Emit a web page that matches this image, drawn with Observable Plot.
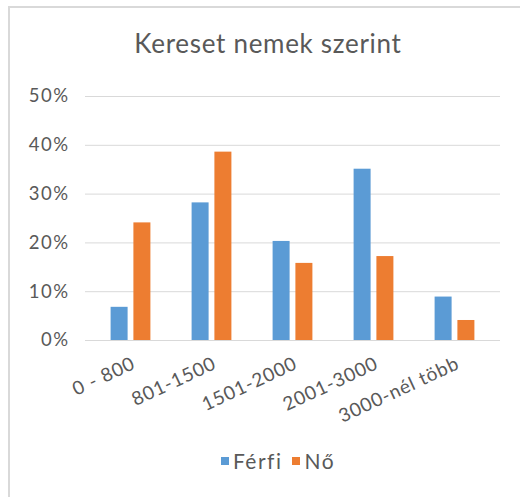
<!DOCTYPE html>
<html>
<head>
<meta charset="utf-8">
<script src="https://cdn.jsdelivr.net/npm/d3@7"></script>
<script src="https://cdn.jsdelivr.net/npm/@observablehq/plot@0.6"></script>
<style>
  html, body { margin: 0; padding: 0; background: #fff; }
  #wrap { position: relative; width: 520px; height: 497px; overflow: hidden; font-family: Lato, "Open Sans", sans-serif; color: #595959; }
  #frame { position: absolute; left: 8px; top: 6px; width: 600px; height: 600px; border-left: 2px solid #d9d9d9; border-top: 2px solid #d9d9d9; box-sizing: border-box; }
  #title { position: absolute; left: 8px; width: 520px; top: 28px; text-align: center; font-size: 26px; letter-spacing: 0.7px; line-height: 30px; color: #595959; }
  #chart { position: absolute; left: 0; top: 0; }
  #chart g[aria-label="y-axis tick label"] text { letter-spacing: 1.5px; }
  #chart g[aria-label="x-axis tick label"] text { letter-spacing: 0.8px; }
  #legend { position: absolute; left: 0; width: 520px; top: 449px; display: flex; justify-content: center; gap: 10px; font-size: 21px; letter-spacing: 1.5px; line-height: 24px; padding-left: 36px; box-sizing: border-box; }
  #legend span.item { display: inline-flex; align-items: center; gap: 4px; }
  #legend span.sw { display: inline-block; width: 8px; height: 8px; }
</style>
</head>
<body>
<div id="wrap">
  <div id="frame"></div>
  <div id="chart"></div>
  <div id="title"></div>
  <div id="legend"></div>
</div>
<script>
const titleText = "Kereset nemek szerint";
const categories = ["0 - 800", "801-1500", "1501-2000", "2001-3000", "3000-nél több"];
const seriesNames = ["Férfi", "Nő"];
const ferfi = [6.8, 28.2, 20.3, 35.1, 8.9];
const no = [24.1, 38.6, 15.8, 17.2, 4.1];
const yTicks = [0, 10, 20, 30, 40, 50];
const colors = ["#5B9BD5", "#ED7D31"];

const ferfiRows = categories.map((c, i) => ({category: c, series: seriesNames[0], value: ferfi[i]}));
const noRows = categories.map((c, i) => ({category: c, series: seriesNames[1], value: no[i]}));

document.getElementById("title").textContent = titleText;

const chart = Plot.plot({
  width: 520,
  height: 440,
  marginLeft: 89,
  marginRight: 24,
  marginTop: 96,
  marginBottom: 100,
  style: {background: "transparent", color: "#595959", fontFamily: "Lato, 'Open Sans', sans-serif"},
  x: {domain: categories, padding: 0, axis: null},
  y: {domain: [0, 50], axis: null},
  color: {domain: seriesNames, range: colors},
  marks: [
    Plot.ruleY(yTicks, {stroke: "#d9d9d9", strokeWidth: 1, insetLeft: -4, insetRight: -4}),
    Plot.barY(ferfiRows, {x: "category", y: "value", fill: "series", insetLeft: 20.6, insetRight: 43.4}),
    Plot.barY(noRows, {x: "category", y: "value", fill: "series", insetLeft: 43.4, insetRight: 20.6}),
    Plot.axisY({ticks: yTicks, tickFormat: d => d + "%", tickSize: 0, tickPadding: 20, fontSize: 18.5, label: null}),
    Plot.axisX({tickSize: 0, tickPadding: 22, tickRotate: -25, fontSize: 19, dx: 3, label: null})
  ]
});
document.getElementById("chart").appendChild(chart);

const legend = document.getElementById("legend");
seriesNames.forEach((s, i) => {
  const item = document.createElement("span");
  item.className = "item";
  const sw = document.createElement("span");
  sw.className = "sw";
  sw.style.background = colors[i];
  item.appendChild(sw);
  item.appendChild(document.createTextNode(s));
  legend.appendChild(item);
});
</script>
</body>
</html>
